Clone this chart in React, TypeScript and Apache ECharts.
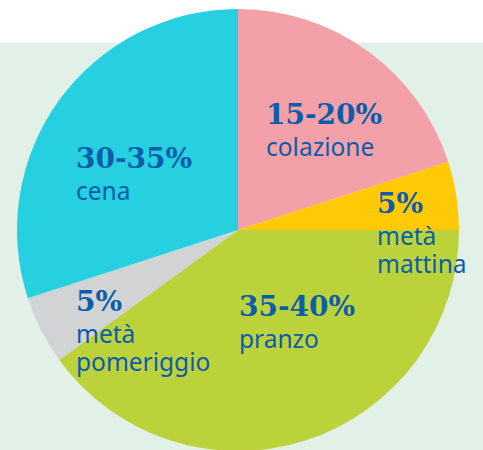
import React, { useEffect, useRef } from "react";
import * as echarts from "echarts";

const categories = ["colazione", "metà\nmattina", "pranzo", "metà\npomeriggio", "cena"];
const values = [20, 5, 40, 5, 30];
const rangeLabels = ["15-20%", "5%", "35-40%", "5%", "30-35%"];
const colors = ["#F4A0A9", "#FFC906", "#BCD23B", "#D2D3D5", "#26D0E0"];

// label anchor (left, top) for each slice
const labelPos: [number, number][] = [
  [266, 96],
  [377, 185],
  [239, 288],
  [76, 283],
  [76, 140],
];

export default function App() {
  const ref = useRef<HTMLDivElement>(null);
  useEffect(() => {
    document.body.style.margin = "0";
    const chart = echarts.init(ref.current!, null, { renderer: "svg" });
    chart.setOption({
      animation: false,
      backgroundColor: "#ffffff",
      graphic: [
        {
          type: "rect",
          z: -10,
          shape: { x: 0, y: 43, width: 483, height: 407 },
          style: { fill: "#E2F1E7" },
        },
      ],
      series: [
        {
          type: "pie",
          center: [238, 230],
          radius: 221,
          startAngle: 90,
          clockwise: true,
          itemStyle: { borderWidth: 0 },
          labelLine: { show: false },
          emphasis: { disabled: true },
          data: categories.map((c, i) => ({
            name: c,
            value: values[i],
            itemStyle: { color: colors[i] },
          })),
          label: {
            show: true,
            position: "inside",
            color: "#0B5DAA",
            align: "left",
            formatter: (p: any) => {
              const lines = categories[p.dataIndex].split("\n").map((l) => `{n|${l}}`).join("\n");
              return `{p|${rangeLabels[p.dataIndex]}}\n${lines}`;
            },
            rich: {
              p: {
                fontFamily: "DejaVu Serif",
                fontWeight: "bold",
                fontSize: 28,
                lineHeight: 36,
                color: "#0B5DAA",
              },
              n: {
                fontFamily: "Noto Sans",
                fontSize: 24.5,
                lineHeight: 28,
                color: "#0B5DAA",
              },
            },
          },
          labelLayout: (params: any) => ({
            x: labelPos[params.dataIndex][0],
            y: labelPos[params.dataIndex][1],
            align: "left",
            verticalAlign: "top",
          }),
        },
      ],
    });
    return () => chart.dispose();
  }, []);
  return <div ref={ref} style={{ width: 483, height: 450 }} />;
}
